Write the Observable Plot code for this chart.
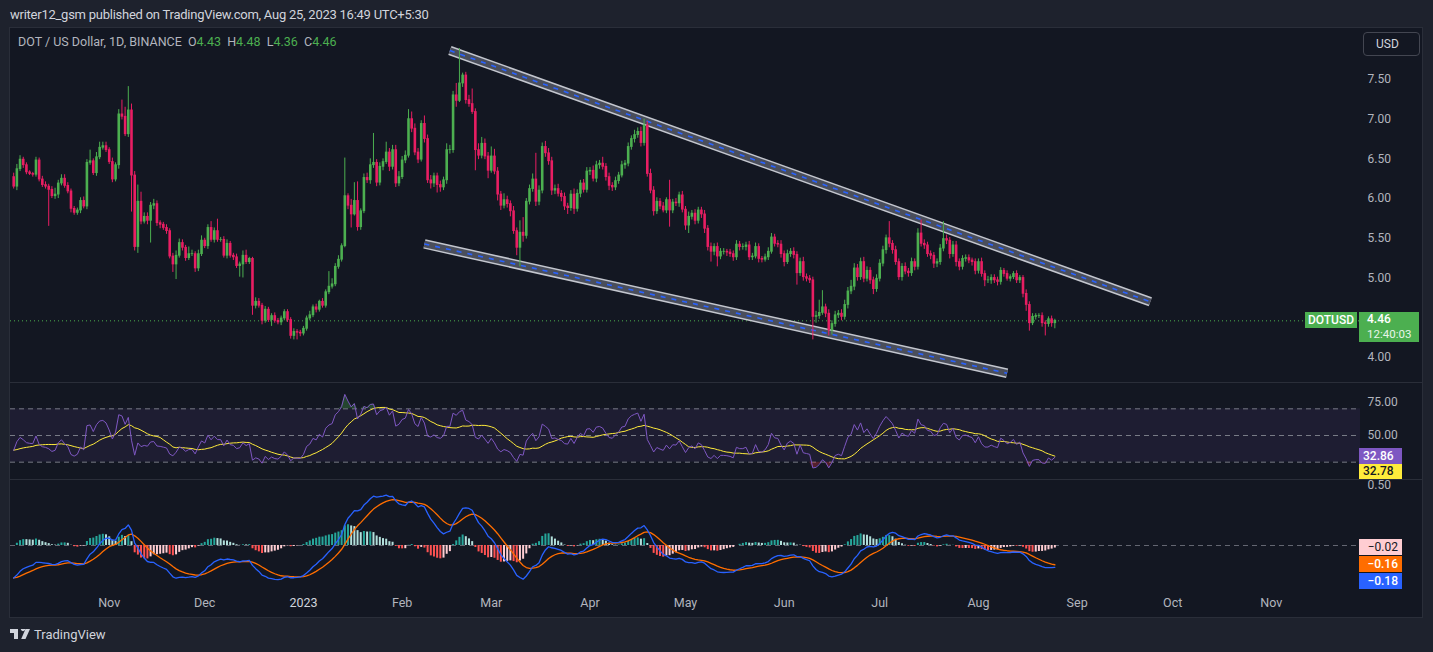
<!DOCTYPE html>
<html><head><meta charset="utf-8">
<script src="https://cdn.jsdelivr.net/npm/d3@7"></script>
<script src="https://cdn.jsdelivr.net/npm/@observablehq/plot@0.6"></script>
<style>
html,body{margin:0;padding:0}
body{background:#1e222d;width:1433px;height:652px;overflow:hidden;position:relative;font-family:Roboto,"Liberation Sans",sans-serif}
.abs{position:absolute}
.pane{position:absolute;left:10px;width:1413px;overflow:hidden}
.lbl{position:absolute;font-size:12px;line-height:16px;box-sizing:border-box;padding:0 4px;white-space:nowrap}
svg{display:block}
</style></head><body>
<div class="abs" style="left:10px;top:7px;font-size:13px;color:#d1d4dc;letter-spacing:-0.25px">writer12_gsm published on TradingView.com, Aug 25, 2023 16:49 UTC+5:30</div>
<div class="abs" style="left:9px;top:27px;width:1412px;height:589px;background:#131722;border:1px solid #2a2e39"></div>
<div id="panes"></div>
<div class="abs" style="left:10px;top:627px;height:14px;display:flex;align-items:center;gap:4px;color:#d1d4dc;font-size:13px">
<svg width="20" height="11" viewBox="0 0 20 11"><path d="M0 0H8V10H4V4H0Z M13 2.2a2.2 2.2 0 1 1 0.01 0Z M15.5 0H20L15.5 10H11.2Z" fill="#d1d4dc"/></svg><span>TradingView</span></div>
<script>
// ---------------- data ----------------
const firstCandle = "2022-10-02";
const open0 = 6.27;
const closes = [
6.15,6.37,6.49,6.42,6.33,6.31,6.30,6.48,6.24,6.17,
6.15,6.11,6.03,6.05,6.19,6.25,6.16,6.09,5.87,5.82,
5.85,5.97,5.90,6.45,6.47,6.32,6.52,6.64,6.66,6.61,
6.46,6.24,6.42,7.06,7.03,6.81,7.11,6.29,5.39,5.96,
5.71,5.77,5.72,5.91,5.93,5.69,5.67,5.63,5.59,5.27,
5.17,5.28,5.44,5.38,5.25,5.30,5.30,5.12,5.30,5.47,
5.40,5.63,5.48,5.59,5.48,5.48,5.28,5.43,5.28,5.26,
5.15,5.17,5.28,5.20,5.24,4.65,4.70,4.65,4.46,4.60,
4.47,4.52,4.46,4.44,4.49,4.57,4.47,4.27,4.32,4.31,
4.30,4.36,4.49,4.53,4.63,4.60,4.70,4.65,4.82,4.89,
4.92,5.14,5.23,5.40,6.03,5.91,5.80,5.97,5.64,5.84,
6.26,6.23,6.42,6.45,6.20,6.40,6.46,6.58,6.40,6.61,
6.19,6.27,6.48,6.54,7.00,6.88,6.58,6.49,6.94,6.75,
6.23,6.19,6.28,6.17,6.14,6.23,6.61,6.61,7.30,7.23,
7.45,7.55,7.24,7.19,7.09,6.61,6.54,6.69,6.53,6.35,
6.53,6.34,6.05,5.91,5.98,5.93,5.84,5.59,5.38,5.57,
5.53,5.96,6.12,6.24,5.96,6.10,6.65,6.57,6.47,6.10,
6.12,6.06,6.02,5.90,5.88,6.05,5.87,6.06,6.19,6.11,
6.34,6.35,6.25,6.42,6.44,6.40,6.27,6.16,6.14,6.22,
6.29,6.42,6.44,6.65,6.75,6.80,6.84,6.70,6.92,6.31,
6.10,5.84,5.96,5.90,5.85,5.98,5.85,5.95,5.94,6.04,
5.86,5.66,5.77,5.81,5.72,5.85,5.80,5.62,5.39,5.33,
5.39,5.27,5.33,5.33,5.32,5.30,5.26,5.42,5.39,5.39,
5.41,5.26,5.27,5.39,5.24,5.23,5.26,5.33,5.51,5.43,
5.42,5.30,5.20,5.30,5.33,5.29,5.06,5.20,5.01,4.99,
4.97,4.51,4.52,4.56,4.63,4.55,4.34,4.42,4.53,4.55,
4.51,4.66,4.83,4.89,5.12,5.01,5.20,4.99,5.09,4.97,
4.86,4.99,5.18,5.35,5.50,5.43,5.35,5.20,5.01,5.14,
5.08,5.06,5.20,5.14,5.56,5.43,5.41,5.30,5.28,5.18,
5.20,5.37,5.49,5.47,5.30,5.41,5.20,5.14,5.24,5.25,
5.22,5.20,5.09,5.20,5.05,4.97,4.97,5.00,4.97,4.95,
5.09,5.05,4.99,5.01,5.05,4.97,5.00,4.80,4.66,4.43,
4.51,4.52,4.52,4.43,4.42,4.48,4.43,4.46];
const upperWicks = [
.05,.06,.05,.03,.03,.02,.02,.04,.03,.04, .04,.03,.04,.08,.04,.05,.05,.04,.03,.03,
.03,.04,.05,.04,.14,.03,.06,.07,.05,.05, .03,.05,.03,.06,.18,.12,.30,.08,.05,.21,
.12,.05,.05,.04,.06,.04,.03,.03,.04,.03, .04,.06,.05,.04,.03,.09,.05,.03,.05,.06,
.03,.04,.08,.04,.15,.03,.04,.05,.03,.03, .04,.03,.06,.07,.02,.02,.05,.04,.03,.04,
.03,.03,.04,.03,.03,.03,.03,.03,.04,.03, .03,.03,.03,.05,.03,.04,.02,.04,.03,.19,
.07,.04,.05,.03,.48,.03,.08,.23,.24,.03, .05,.06,.08,.37,.04,.05,.04,.13,.05,.06,
.06,.07,.05,.06,.12,.09,.06,.05,.04,.10, .05,.06,.04,.04,.05,.04,.08,.06,.05,.15,
.44,.03,.04,.06,.19,.04,.08,.08,.06,.05, .12,.09,.05,.04,.08,.05,.04,.06,.04,.15,
.19,.04,.05,.07,.33,.06,.05,.07,.06,.05, .05,.06,.04,.05,.04,.05,.07,.05,.04,.05,
.05,.04,.06,.05,.04,.08,.04,.05,.04,.05, .04,.05,.04,.05,.04,.06,.05,.06,.08,.05,
.06,.05,.05,.04,.05,.03,.25,.04,.05,.04, .05,.04,.06,.04,.05,.04,.04,.05,.04,.05,
.04,.05,.04,.04,.03,.04,.04,.05,.04,.04, .04,.05,.04,.05,.04,.03,.04,.05,.05,.04,
.04,.05,.04,.05,.04,.05,.04,.05,.06,.04, .04,.04,.06,.16,.21,.04,.05,.04,.05,.04,
.05,.06,.05,.08,.06,.05,.05,.06,.05,.04, .04,.05,.05,.05,.04,.21,.04,.05,.04,.04,
.05,.04,.05,.04,.06,.17,.05,.04,.04,.04, .04,.05,.22,.05,.04,.05,.05,.04,.04,.04,
.04,.03,.04,.04,.05,.04,.05,.04,.04,.04, .04,.03,.04,.03,.03,.04,.03,.03,.05,.04,
.04,.03,.03,.04,.03,.03,.04,.02];
const lowerWicks = [
.03,.05,.03,.04,.03,.02,.03,.03,.03,.03, .03,.46,.03,.04,.05,.03,.03,.03,.05,.03,
.03,.04,.03,.04,.03,.03,.04,.03,.03,.03, .03,.04,.03,.05,.04,.03,.04,.46,.05,.08,
.04,.03,.05,.28,.05,.04,.05,.03,.04,.03, .10,.19,.03,.04,.04,.03,.03,.05,.04,.03,
.03,.04,.03,.04,.03,.03,.03,.04,.03,.04, .03,.14,.17,.03,.03,.12,.04,.03,.05,.03,
.03,.08,.03,.03,.04,.03,.03,.04,.05,.09, .04,.03,.03,.03,.03,.04,.03,.03,.03,.03,
.03,.03,.03,.03,.02,.05,.17,.02,.05,.04, .03,.04,.05,.04,.05,.04,.05,.03,.06,.04,
.05,.04,.03,.04,.03,.05,.04,.05,.03,.05, .04,.07,.05,.10,.06,.04,.05,.05,.04,.08,
.02,.05,.05,.04,.03,.26,.05,.04,.04,.10, .03,.04,.08,.06,.04,.05,.07,.04,.10,.24,
.08,.04,.04,.04,.06,.05,.04,.05,.05,.06, .05,.04,.06,.05,.08,.04,.07,.04,.05,.04,
.04,.05,.04,.05,.05,.04,.05,.06,.05,.04, .04,.03,.05,.04,.04,.05,.04,.05,.04,.04,
.04,.06,.04,.04,.03,.04,.21,.04,.04,.05, .04,.06,.10,.04,.05,.04,.05,.06,.05,.13,
.05,.13,.04,.04,.05,.04,.05,.04,.05,.04, .05,.04,.04,.03,.05,.04,.03,.04,.03,.04,
.04,.05,.06,.03,.04,.05,.15,.04,.05,.04, .04,.29,.08,.04,.03,.05,.07,.06,.04,.04,
.05,.04,.05,.04,.05,.05,.04,.05,.04,.05, .07,.04,.04,.04,.05,.05,.05,.04,.04,.05,
.04,.05,.04,.05,.04,.04,.05,.04,.05,.06, .05,.04,.04,.05,.06,.04,.06,.05,.04,.04,
.04,.05,.05,.04,.04,.08,.04,.05,.04,.05, .04,.04,.03,.04,.03,.04,.04,.05,.08,.10,
.03,.04,.03,.05,.15,.04,.05,.07];
const monthTicks = ["2022-11-01","2022-12-01","2023-01-01","2023-02-01","2023-03-01","2023-04-01","2023-05-01","2023-06-01","2023-07-01","2023-08-01","2023-09-01","2023-10-01","2023-11-01"];
const monthLabels = ["Nov","Dec","2023","Feb","Mar","Apr","May","Jun","Jul","Aug","Sep","Oct","Nov"];
const priceTicks = [4, 4.5, 5, 5.5, 6, 6.5, 7, 7.5];
const rsiTicks = [50, 75];
const rsiLevels = [70, 50, 30];
const macdTicks = [0.5];
const upperTrend = [{date:"2023-02-16", price:7.865}, {date:"2023-09-24", price:4.70}];
const lowerTrend = [{date:"2023-02-08", price:5.428}, {date:"2023-08-10", price:3.80}];
const symbolTitle = "DOT / US Dollar, 1D, BINANCE";
const lastQuote = {O:"4.43", H:"4.48", L:"4.36", C:"4.46"};
const lastPrice = 4.46;
const countdown = "12:40:03";
const rsiLabels = {rsi:"32.86", ma:"32.78"};
const macdLabels = {hist:"\u22120.02", signal:"\u22120.16", macd:"\u22120.18"};
const rsiSeed = {avgGain:0.060, avgLoss:0.085, ma:39};
const macdSeed = {ema12:6.35, ema26:6.625, signal:-0.27};

// ---------------- derived ----------------
const UP = "#4caf50", DOWN = "#e91e63";
const FONT = 'Roboto, "Liberation Sans", sans-serif';
const day0 = new Date(firstCandle);
const candles = closes.map((c, k) => {
  const o = k === 0 ? open0 : closes[k - 1];
  return {date: d3.utcDay.offset(day0, k), open: o, close: c,
    high: Math.max(o, c) + upperWicks[k], low: Math.min(o, c) - lowerWicks[k],
    col: c >= o ? UP : DOWN};
});
// RSI 14 (Wilder) + SMA 14
let ag = rsiSeed.avgGain, al = rsiSeed.avgLoss, prev = open0;
const rsiVals = closes.map(c => {
  const ch = c - prev; prev = c;
  ag = (ag * 13 + Math.max(ch, 0)) / 14;
  al = (al * 13 + Math.max(-ch, 0)) / 14;
  return 100 - 100 / (1 + ag / al);
});
const win = d3.range(13).map(() => rsiSeed.ma);
const rsiData = rsiVals.map((v, k) => { win.push(v); if (win.length > 14) win.shift();
  return {date: candles[k].date, rsi: v, ma: d3.mean(win)}; });
// MACD 12/26/9
let e12 = macdSeed.ema12, e26 = macdSeed.ema26, sig = macdSeed.signal, prevH = 0;
const macdData = closes.map((c, k) => {
  e12 += 2 / 13 * (c - e12); e26 += 2 / 27 * (c - e26);
  const m = e12 - e26; sig += 0.2 * (m - sig); const h = m - sig;
  const col = h >= 0 ? (h > prevH ? "#26a69a" : "#b2dfdb") : (h > prevH ? "#ffcdd2" : "#ff5252");
  prevH = h;
  return {date: candles[k].date, m, s: sig, h, col};
});

const xDomain = [new Date("2022-10-01"), new Date("2023-11-29")];
const W = 1413, MR = 63;
const common = {width: W, marginLeft: 0, marginRight: MR, marginTop: 0,
  style: {background: "transparent", color: "#b2b5be", fontFamily: FONT, fontSize: "12px", overflow: "visible"},
  color: {type: "identity"}};
const panes = document.getElementById("panes");
function place(svg, top, height, clip = true) {
  const d = document.createElement("div"); d.className = "pane";
  d.style.top = top + "px"; d.style.height = height + "px";
  if (!clip) d.style.overflow = "visible";
  d.appendChild(svg); panes.appendChild(d); return d;
}
function label(parent, text, left, top, w, h, bg, fg, extra) {
  const d = document.createElement("div"); d.className = "lbl";
  d.textContent = text;
  Object.assign(d.style, {left: left + "px", top: top + "px", width: w + "px", height: h + "px", background: bg, color: fg, lineHeight: h + "px"}, extra || {});
  parent.appendChild(d); return d;
}
const trend = (data) => [
  Plot.line(data, {x: d => new Date(d.date), y: "price", stroke: "#c3c6ce", strokeWidth: 9.5, strokeLinecap: "butt"}),
  Plot.line(data, {x: d => new Date(d.date), y: "price", stroke: "#4a4e5b", strokeWidth: 6.5, strokeLinecap: "butt"}),
  Plot.line(data, {x: d => new Date(d.date), y: "price", stroke: "#2962ff", strokeWidth: 1.6, strokeDasharray: "5,6", strokeLinecap: "butt"})
];

// ---- price pane ----
const pricePlot = Plot.plot({...common, height: 353, marginBottom: 0,
  x: {type: "utc", domain: xDomain, axis: null},
  y: {domain: [3.696, 8.142], axis: null},
  marks: [
    Plot.ruleY([lastPrice], {stroke: UP, strokeDasharray: "1,3", strokeWidth: 1}),
    ...trend(upperTrend), ...trend(lowerTrend),
    Plot.ruleX(candles, {x: "date", y1: "low", y2: "high", stroke: "col", strokeWidth: 1}),
    Plot.ruleX(candles, {x: "date", y1: d => Math.min(d.open, d.close) - 0.005, y2: d => Math.max(d.open, d.close) + 0.005, stroke: "col", strokeWidth: 2.6}),
    Plot.axisY(priceTicks, {anchor: "right", tickSize: 0, tickPadding: 7, tickFormat: d3.format(".2f"), label: null})
  ]});
const pricePane = place(pricePlot, 28, 353);
const py = pricePlot.scale("y");
// legend
const leg = document.createElement("div");
Object.assign(leg.style, {position: "absolute", left: "8px", top: "6px", fontSize: "12.5px", color: "#b2b5be", whiteSpace: "pre"});
leg.innerHTML = symbolTitle + "  " + Object.entries(lastQuote).map(([k, v]) => `${k}<span style="color:${UP}">${v}</span>`).join("  ");
pricePane.appendChild(leg);
label(pricePane, "USD", 1353, 4, 57, 24, "transparent", "#d1d4dc", {border: "1px solid #434651", borderRadius: "4px", textAlign: "left", paddingLeft: "12px", lineHeight: "22px"});
const yp = py.apply(lastPrice);
label(pricePane, "DOTUSD", 1295, yp - 8, 52, 16, UP, "#fff", {textAlign: "center", padding: "0", fontWeight: "500"});
label(pricePane, lastPrice.toFixed(2), 1349, yp - 8, 60, 15, UP, "#fff", {paddingLeft: "8px", fontWeight: "500"});
label(pricePane, countdown, 1349, yp + 7, 60, 15, UP, "#e8f5e9", {paddingLeft: "8px", fontSize: "11.5px"});

// ---- RSI pane ----
const rsiPlot = Plot.plot({...common, height: 96, marginBottom: 0,
  x: {type: "utc", domain: xDomain, axis: null},
  y: {domain: [17, 89], axis: null},
  marks: [
    Plot.rect([0], {x1: () => xDomain[0], x2: () => xDomain[1], y1: rsiLevels[2], y2: rsiLevels[0], fill: "#7e57c2", fillOpacity: 0.1}),
    Plot.ruleY(rsiLevels, {stroke: "#787b86", strokeDasharray: "5,4", strokeWidth: 1}),
    Plot.areaY(rsiData, {x: "date", y1: rsiLevels[0], y2: d => Math.max(rsiLevels[0], d.rsi), fill: "#4caf50", fillOpacity: 0.3}),
    Plot.areaY(rsiData, {x: "date", y1: rsiLevels[2], y2: d => Math.min(rsiLevels[2], d.rsi), fill: "#f23645", fillOpacity: 0.3}),
    Plot.line(rsiData, {x: "date", y: "ma", stroke: "#ffeb3b", strokeWidth: 1}),
    Plot.line(rsiData, {x: "date", y: "rsi", stroke: "#7e57c2", strokeWidth: 1}),
    Plot.axisY(rsiTicks, {anchor: "right", tickSize: 0, tickPadding: 7, tickFormat: d3.format(".2f"), label: null})
  ]});
const rsiPane = place(rsiPlot, 383, 96);
const ry = rsiPlot.scale("y");
const rTop = Math.min(ry.apply(+rsiLabels.rsi) - 8, 96 - 31);
label(rsiPane, rsiLabels.rsi, 1349, rTop, 43, 16, "#7e57c2", "#fff", {fontWeight: "500"});
label(rsiPane, rsiLabels.ma, 1349, rTop + 16, 43, 15, "#ffeb3b", "#131722", {fontWeight: "500"});

// ---- MACD pane ----
const tickDates = monthTicks.map(d => new Date(d));
const tickName = new Map(tickDates.map((d, i) => [+d, monthLabels[i]]));
const macdPlot = Plot.plot({...common, height: 136, marginBottom: 26,
  x: {type: "utc", domain: xDomain, axis: null},
  y: {domain: [-0.375, 0.5417], axis: null},
  marks: [
    Plot.ruleY([0], {stroke: "#787b86", strokeDasharray: "5,4", strokeOpacity: 0.8}),
    Plot.ruleX(macdData, {x: "date", y1: 0, y2: "h", stroke: "col", strokeWidth: 2}),
    Plot.line(macdData, {x: "date", y: "s", stroke: "#ff6d00", strokeWidth: 1.3}),
    Plot.line(macdData, {x: "date", y: "m", stroke: "#2962ff", strokeWidth: 1.3}),
    Plot.axisY(macdTicks, {anchor: "right", tickSize: 0, tickPadding: 7, tickFormat: d3.format(".2f"), label: null}),
    Plot.axisX(tickDates.filter(d => d.getUTCMonth() !== 0), {anchor: "bottom", tickSize: 0, tickPadding: 8, tickFormat: d => tickName.get(+d), label: null, fontSize: 12.5}),
    Plot.axisX(tickDates.filter(d => d.getUTCMonth() === 0), {anchor: "bottom", tickSize: 0, tickPadding: 8, tickFormat: d => tickName.get(+d), label: null, fill: "#d1d4dc", fontSize: 12.5})
  ]});
const macdPane = place(macdPlot, 480, 136, false);
const my = macdPlot.scale("y");
const mTop = my.apply(-0.02) - 8;
label(macdPane, macdLabels.hist, 1349, mTop, 43, 16, "#ffcdd2", "#131722", {textAlign: "right"});
label(macdPane, macdLabels.signal, 1349, mTop + 17, 43, 16, "#ff6d00", "#fff", {textAlign: "right", fontWeight: "500"});
label(macdPane, macdLabels.macd, 1349, mTop + 34, 43, 16, "#2962ff", "#fff", {textAlign: "right", fontWeight: "500"});

// separators
for (const y of [382, 479]) {
  const s = document.createElement("div");
  Object.assign(s.style, {position: "absolute", left: "10px", top: y + "px", width: "1412px", height: "1px", background: "#2a2e39"});
  document.body.appendChild(s);
}
</script>
</body></html>
